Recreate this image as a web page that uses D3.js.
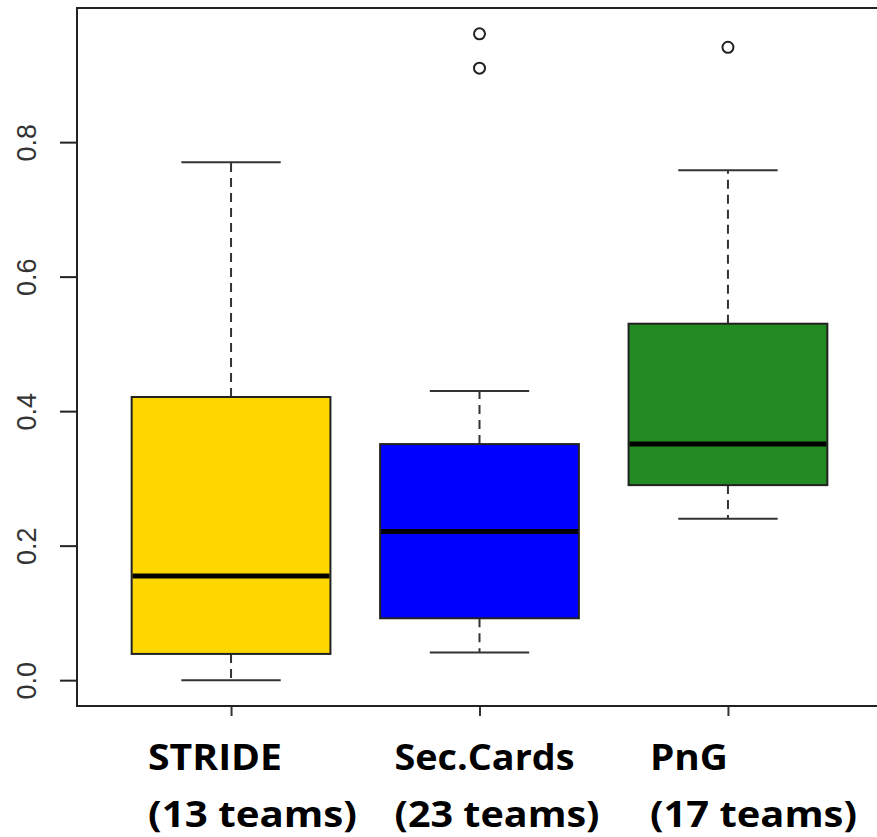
<!DOCTYPE html>
<html>
<head>
<meta charset="utf-8">
<script src="https://cdn.jsdelivr.net/npm/d3@7"></script>
<style>
  html, body { margin: 0; padding: 0; background: #fff; }
  svg { display: block; }
</style>
</head>
<body>
<div id="chart"></div>
<script>
// group names and the two-line labels under the axis
const categories = ['STRIDE', 'Sec.Cards', 'PnG'];
const teamLabels = ['(13 teams)', '(23 teams)', '(17 teams)'];

// five-number summaries
const whiskerLow = [0.000, 0.041, 0.240];
const q1 = [0.039, 0.092, 0.290];
const medians = [0.155, 0.221, 0.351];
const q3 = [0.421, 0.351, 0.530];
const whiskerHigh = [0.770, 0.430, 0.758];
const outliers = [[], [0.910, 0.961], [0.941]];

const fills = ['#FFD700', '#0000FF', '#228B22'];
const yTicks = [0, 0.2, 0.4, 0.6, 0.8];

const width = 877, height = 837;
const plot = { left: 77, top: 8, right: 882, bottom: 706 };

const svg = d3.select('#chart').append('svg')
  .attr('width', width)
  .attr('height', height);

// R style: positions 1..n, xlim 0.5..n+0.5 padded by 4%
const xr = [0.5, categories.length + 0.5];
const xpad = (xr[1] - xr[0]) * 0.04;
const x = d3.scaleLinear()
  .domain([xr[0] - xpad, xr[1] + xpad])
  .range([plot.left, plot.right]);

const allVals = whiskerLow.concat(whiskerHigh, ...outliers);
const yr = d3.extent(allVals);
const ypad = (yr[1] - yr[0]) * 0.04;
const y = d3.scaleLinear()
  .domain([yr[0] - ypad, yr[1] + ypad])
  .range([plot.bottom, plot.top]);

const boxHalf = 0.4, capHalf = 0.2;

const data = categories.map((c, i) => ({
  name: c, pos: i + 1, lo: whiskerLow[i], q1: q1[i], med: medians[i],
  q3: q3[i], hi: whiskerHigh[i], out: outliers[i], fill: fills[i]
}));

const g = svg.append('g');

// whiskers (dashed)
g.selectAll('.whisker-up').data(data).enter().append('line')
  .attr('x1', d => x(d.pos)).attr('x2', d => x(d.pos))
  .attr('y1', d => y(d.q3)).attr('y2', d => y(d.hi))
  .attr('stroke', '#333').attr('stroke-width', 2)
  .attr('stroke-dasharray', '9,6');

g.selectAll('.whisker-down').data(data).enter().append('line')
  .attr('x1', d => x(d.pos)).attr('x2', d => x(d.pos))
  .attr('y1', d => y(d.q1)).attr('y2', d => y(d.lo))
  .attr('stroke', '#333').attr('stroke-width', 2)
  .attr('stroke-dasharray', '9,6');

// staples
['hi', 'lo'].forEach(k => {
  g.selectAll('.cap-' + k).data(data).enter().append('line')
    .attr('x1', d => x(d.pos - capHalf)).attr('x2', d => x(d.pos + capHalf))
    .attr('y1', d => y(d[k])).attr('y2', d => y(d[k]))
    .attr('stroke', '#333').attr('stroke-width', 2);
});

// boxes
g.selectAll('.box').data(data).enter().append('rect')
  .attr('x', d => x(d.pos - boxHalf))
  .attr('width', d => x(d.pos + boxHalf) - x(d.pos - boxHalf))
  .attr('y', d => y(d.q3))
  .attr('height', d => y(d.q1) - y(d.q3))
  .attr('fill', d => d.fill)
  .attr('stroke', '#222').attr('stroke-width', 2);

// medians
g.selectAll('.median').data(data).enter().append('line')
  .attr('x1', d => x(d.pos - boxHalf) + 1).attr('x2', d => x(d.pos + boxHalf) - 1)
  .attr('y1', d => y(d.med)).attr('y2', d => y(d.med))
  .attr('stroke', '#000').attr('stroke-width', 5);

// outliers
const outPts = data.flatMap(d => d.out.map(v => ({ pos: d.pos, v })));
g.selectAll('.outlier').data(outPts).enter().append('circle')
  .attr('cx', d => x(d.pos)).attr('cy', d => y(d.v))
  .attr('r', 5.5)
  .attr('fill', 'none').attr('stroke', '#222').attr('stroke-width', 2);

// y axis
const yAxis = svg.append('g')
  .attr('transform', `translate(${plot.left},0)`)
  .call(d3.axisLeft(y).tickValues(yTicks).tickFormat(d3.format('.1f')).tickSize(17));
yAxis.select('.domain').remove();
yAxis.selectAll('.tick line').attr('stroke', '#222').attr('stroke-width', 2);
yAxis.selectAll('.tick text')
  .attr('transform', 'rotate(-90)')
  .attr('x', 0).attr('y', -41).attr('dy', 0)
  .attr('text-anchor', 'middle')
  .style('font-family', '"Liberation Sans", Arial, sans-serif')
  .style('font-size', '27px')
  .style('fill', '#333');

// x axis ticks only
const xAxis = svg.append('g')
  .attr('transform', `translate(0,${plot.bottom})`)
  .call(d3.axisBottom(x).tickValues(data.map(d => d.pos)).tickFormat('').tickSize(10));
xAxis.select('.domain').remove();
xAxis.selectAll('.tick line').attr('stroke', '#333').attr('stroke-width', 2);

// frame (right side runs past the window)
svg.append('rect')
  .attr('x', plot.left).attr('y', plot.top)
  .attr('width', plot.right - plot.left).attr('height', plot.bottom - plot.top)
  .attr('fill', 'none').attr('stroke', '#222').attr('stroke-width', 2);

// category labels, left aligned under each tick
// (Calibri is not available, so stretch the substitute to the original widths)
const labelDx = [-83, -85, -78];
const nameWidths = [134, 180, 78];
const teamWidths = [209, 205, 207];
const labels = svg.append('g')
  .style('font-family', '"Open Sans", Calibri, sans-serif')
  .style('font-weight', 700)
  .style('font-size', '36px')
  .style('fill', '#000');

labels.selectAll('.lab1').data(data).enter().append('text')
  .attr('x', (d, i) => x(d.pos) + labelDx[i])
  .attr('y', 770)
  .attr('textLength', (d, i) => nameWidths[i])
  .attr('lengthAdjust', 'spacingAndGlyphs')
  .text(d => d.name);

labels.selectAll('.lab2').data(data).enter().append('text')
  .attr('x', (d, i) => x(d.pos) + labelDx[i])
  .attr('y', 827)
  .attr('textLength', (d, i) => teamWidths[i])
  .attr('lengthAdjust', 'spacingAndGlyphs')
  .text((d, i) => teamLabels[i]);
</script>
</body>
</html>
